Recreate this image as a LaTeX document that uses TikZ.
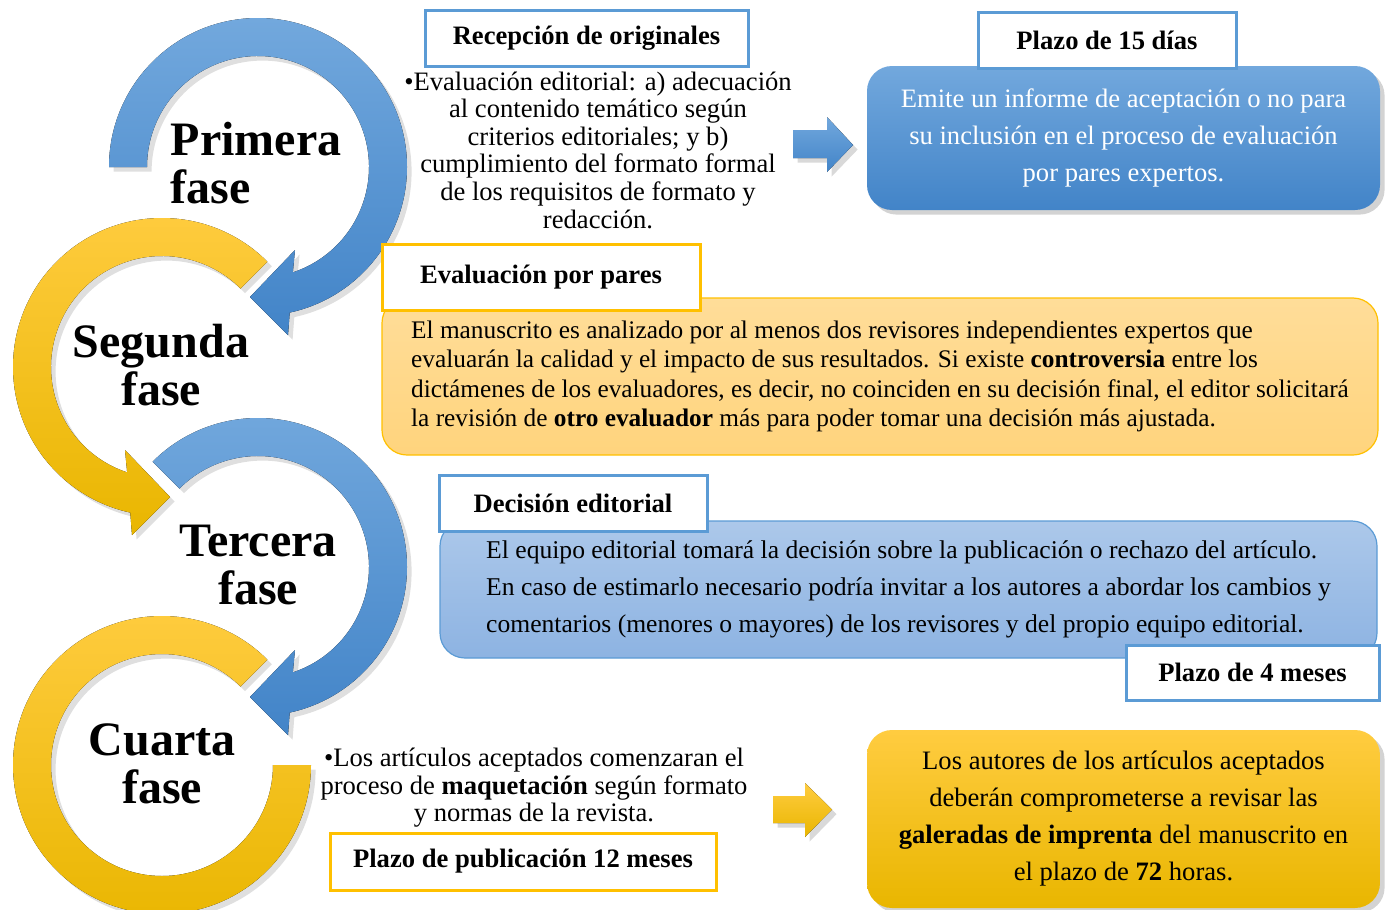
\documentclass[tikz,border=0pt]{standalone}
\usepackage{fontspec}
\setmainfont{Liberation Serif}
\usetikzlibrary{shadows}
\definecolor{azul}{RGB}{91,155,213}
\definecolor{azulclaro}{RGB}{114,168,221}
\definecolor{azuloscuro}{RGB}{66,132,200}
\definecolor{amarillo}{RGB}{255,192,0}
\definecolor{amarilloclaro}{RGB}{255,204,64}
\definecolor{amarillooscuro}{RGB}{233,182,0}
\definecolor{pastel}{RGB}{255,221,153}
\definecolor{pastelb}{RGB}{255,212,125}
\definecolor{celeste}{RGB}{172,200,234}
\definecolor{celesteb}{RGB}{141,179,226}
\tikzstyle{anilloazul} = [top color=azulclaro, bottom color=azuloscuro, drop shadow={opacity=0.25}]
\tikzstyle{anilloamarillo} = [top color=amarilloclaro, bottom color=amarillooscuro, drop shadow={opacity=0.25}]
\tikzstyle{fase} = [font=\fontsize{24}{24}\selectfont\bfseries, align=center, inner sep=0pt]
\tikzstyle{etiqueta} = [rectangle, fill=white, line width=1.5pt, inner sep=0pt,
    font=\fontsize{13.3}{15}\selectfont\bfseries]
\tikzstyle{etiquetaazul} = [etiqueta, draw=azul]
\tikzstyle{etiquetaamarilla} = [etiqueta, draw=amarillo]
\tikzstyle{texto} = [inner sep=0pt, align=center, font=\fontsize{13.3}{13.8}\selectfont]
\tikzstyle{caja} = [rectangle, rounded corners=12.5pt, inner sep=0pt, font=\fontsize{13.3}{18.5}\selectfont]
\tikzstyle{flecha} = [drop shadow={opacity=0.3}]

\begin{document}
\begin{tikzpicture}[x=0.5pt,y=-0.5pt]
  \useasboundingbox (0,0) rectangle (1387,910);
  \coordinate (c1) at (258,167);
  \coordinate (c2) at (162,367);
  \coordinate (c3) at (258,567);
  \coordinate (c4) at (162,765);

  % anillos de las fases
  \begin{scope}[shift={(c1)}]
    \fill[anilloazul] (180:149) arc[start angle=180, end angle=437.7, radius=149] -- (30,168) -- (-8,130)
      -- (37,83) -- (431.7:111) arc[start angle=431.7, end angle=180, radius=111] -- cycle;
  \end{scope}
  \begin{scope}[shift={(c2)}, xscale=-1]
    \fill[anilloamarillo] (225:149) arc[start angle=225, end angle=437.7, radius=149] -- (30,168) -- (-8,130)
      -- (37,83) -- (431.7:111) arc[start angle=431.7, end angle=225, radius=111] -- cycle;
  \end{scope}
  \begin{scope}[shift={(c3)}]
    \fill[anilloazul] (225:149) arc[start angle=225, end angle=437.7, radius=149] -- (30,168) -- (-8,130)
      -- (37,83) -- (431.7:111) arc[start angle=431.7, end angle=225, radius=111] -- cycle;
  \end{scope}
  \begin{scope}[shift={(c4)}]
    \fill[anilloamarillo] (315:149) arc[start angle=315, end angle=0, radius=149]
      -- (0:111) arc[start angle=0, end angle=315, radius=111] -- cycle;
  \end{scope}

  \node[fase, align=left] (primera) at (256,163) {Primera\\fase};
  \node[fase] (segunda) at (161,365) {Segunda\\fase};
  \node[fase] (tercera) at (258,565) {Tercera\\fase};
  \node[fase] (cuarta) at (162,764) {Cuarta\\fase};

  % primera fase
  \node[etiquetaazul, minimum width=161.5pt, minimum height=28pt] (recepcion) at (586.5,38) {Recepción de originales};
  \node[texto] (evaluacion) at (598,150) {•Evaluación editorial: a) adecuación\\al contenido temático según\\criterios editoriales; y b)\\cumplimiento del formato formal\\de los requisitos de formato y\\redacción.};
  \fill[flecha, top color=azulclaro, bottom color=azuloscuro] (793,130) -- (827,130) -- (827,117) -- (853,145)
    -- (827,172) -- (827,158) -- (793,158) -- cycle;
  \node[caja, top color=azulclaro, bottom color=azuloscuro, text=white, drop shadow={opacity=0.35},
    minimum width=256.5pt, minimum height=72pt, align=center] (informe) at (1123.5,138)
    {Emite un informe de aceptación o no para\\su inclusión en el proceso de evaluación\\por pares expertos.};
  \node[etiquetaazul, minimum width=129pt, minimum height=28pt] (plazo15) at (1107,40) {Plazo de 15 días};

  % segunda fase
  \node[caja, top color=pastel, bottom color=pastelb, draw=amarillo, line width=0.6pt,
    minimum width=498pt, minimum height=78.5pt, align=left, font=\fontsize{12.66}{14.75}\selectfont] (pares) at (880,376.5)
    {El manuscrito es analizado por al menos dos revisores independientes expertos que\\
     evaluarán la calidad y el impacto de sus resultados. Si existe \textbf{controversia} entre los\\
     dictámenes de los evaluadores, es decir, no coinciden en su decisión final, el editor solicitará\\
     la revisión de \textbf{otro evaluador} más para poder tomar una decisión más ajustada.};
  \node[etiquetaamarilla, minimum width=159pt, minimum height=33pt] (evpares) at (541,277) {Evaluación por pares};

  % tercera fase
  \node[caja, top color=celeste, bottom color=celesteb, draw=azul, line width=0.6pt,
    minimum width=468.5pt, minimum height=68.5pt, align=left, font=\fontsize{12.8}{18.5}\selectfont] (decision) at (908.5,589.5)
    {El equipo editorial tomará la decisión sobre la publicación o rechazo del artículo.\\
     En caso de estimarlo necesario podría invitar a los autores a abordar los cambios y\\
     comentarios (menores o mayores) de los revisores y del propio equipo editorial.};
  \node[etiquetaazul, minimum width=134pt, minimum height=28pt] (deced) at (573,503) {Decisión editorial};
  \node[etiquetaazul, minimum width=126.5pt, minimum height=27.5pt] (plazo4) at (1252.5,672.5) {Plazo de 4 meses};

  % cuarta fase
  \node[texto] (maquetacion) at (534,788) {•Los artículos aceptados comenzaran el\\proceso de \textbf{maquetación} según formato\\y normas de la revista.};
  \node[etiquetaamarilla, minimum width=193pt, minimum height=28.5pt] (plazo12) at (523,861.5) {Plazo de publicación 12 meses};
  \fill[flecha, top color=amarilloclaro, bottom color=amarillooscuro] (773,796) -- (805,796) -- (805,783) -- (832,809.5)
    -- (805,837) -- (805,823) -- (773,823) -- cycle;
  \node[caja, top color=amarilloclaro, bottom color=amarillooscuro, drop shadow={opacity=0.35},
    minimum width=256.5pt, minimum height=89pt, align=center] (galeradas) at (1123.5,819)
    {Los autores de los artículos aceptados\\deberán comprometerse a revisar las\\\textbf{galeradas de imprenta} del manuscrito en\\el plazo de \textbf{72} horas.};
\end{tikzpicture}
\end{document}
